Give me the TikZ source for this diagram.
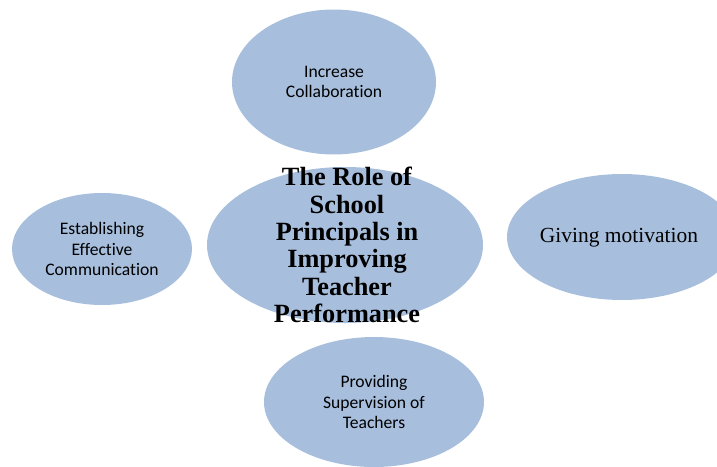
\documentclass[tikz,border=0pt]{standalone}
\usepackage{fontspec}
\setmainfont{Liberation Serif}
\newfontfamily\calibrifont[Ligatures={NoCommon,NoRequired,NoContextual}]{Carlito}
\usetikzlibrary{shapes.geometric,positioning}
\definecolor{bubbleblue}{RGB}{167,191,221}
\tikzset{
    bubble/.style={
        ellipse,
        fill=bubbleblue,
        draw=none,
        align=center,
        inner sep=0pt,
    },
    small text/.style={
        font=\calibrifont\fontsize{17.6}{20.3}\selectfont,
    },
    hub text/.style={
        align=center,
        inner sep=0pt,
        font=\bfseries\fontsize{26.3}{27.4}\selectfont,
    },
}

\begin{document}
\begin{tikzpicture}[x=1pt,y=-1pt]
    \useasboundingbox (0,0) rectangle (717,466);
    \clip (0,0) rectangle (717,466);
    \node[bubble,small text,minimum width=204,minimum height=145](collab) at (334,82) {Increase\\Collaboration};
    \node[bubble,minimum width=276,minimum height=156](hub) at (345,245) {};
    \node[bubble,small text,minimum width=180,minimum height=112](comm) at (102,249) {Establishing\\Effective\\Communication};
    \node[bubble,minimum width=230,minimum height=126](motiv) at (622,237) {};
    \node[bubble,small text,minimum width=220,minimum height=130](superv) at (374,402) {Providing\\Supervision of\\Teachers};
    \node[font=\fontsize{21.5}{24}\selectfont](motivtext) at (619,238) {Giving motivation};
    \node[hub text](hubtext) at (347,245) {The Role of\\School\\Principals in\\Improving\\Teacher\\Performance};
\end{tikzpicture}
\end{document}
